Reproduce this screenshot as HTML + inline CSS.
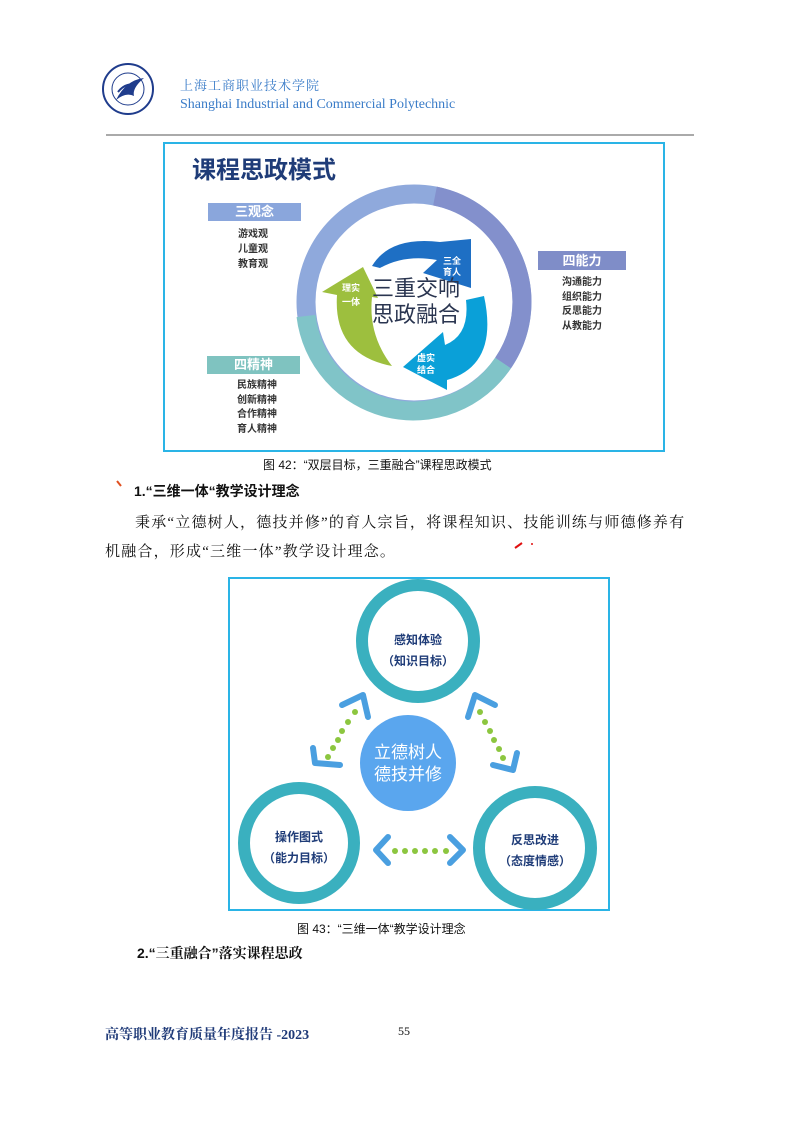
<!DOCTYPE html>
<html><head><meta charset="utf-8">
<style>
html,body{margin:0;padding:0;background:#fff;}
body{width:793px;height:1122px;position:relative;overflow:hidden;}
.a{position:absolute;white-space:nowrap;}
.s{font-family:"Liberation Sans","Noto Sans CJK SC",sans-serif;}
.r{font-family:"Liberation Serif","Noto Serif CJK SC",serif;}
</style></head><body>
<svg class="a" style="left:0;top:0" width="793" height="1122" viewBox="0 0 793 1122">
 <circle cx="128" cy="89" r="25" fill="#fff" stroke="#1f3c8c" stroke-width="2"/>
 <circle cx="128" cy="89" r="16" fill="none" stroke="#1f3c8c" stroke-width="1"/>
 <path d="M116,100 Q126,80 144,78 Q132,88 134,96 Q126,92 116,100Z" fill="#1f3c8c"/>
 <path d="M118,92 Q124,84 134,84" fill="none" stroke="#1f3c8c" stroke-width="2"/>
 <line x1="106" y1="135" x2="694" y2="135" stroke="#777" stroke-width="1.2"/>
 <rect x="164" y="143" width="500" height="308" fill="#fff" stroke="#2ab4e6" stroke-width="2"/>
 <circle cx="414" cy="302" r="108" fill="none" stroke="#8fa9dc" stroke-width="19"/>
 <path d="M435,196 A108,108 0 0 1 503,363" fill="none" stroke="#8390cc" stroke-width="19"/>
 <path d="M503,363 A108,108 0 0 1 306,316" fill="none" stroke="#80c4c8" stroke-width="19"/>
 <path d="M372,266 Q390,236 440,242 L471,239 L471,288 L423,273 L437,260 Q405,254 380,268 Z" fill="#1e6fc4"/>
 <path d="M403,367 L443,332 L445,345 Q470,335 466,300 L484,296 Q499,365 447,380 L447,390 Z" fill="#0aa0d8"/>
 <path d="M363,267 L322,292 L337,295 Q333,355 392,366 Q368,335 372,297 L378,298 Z" fill="#9dbf3e"/>
 <rect x="208" y="203" width="93" height="18" fill="#8aa6dc"/>
 <rect x="538" y="251" width="88" height="19" fill="#7f8dc8"/>
 <rect x="207" y="356" width="93" height="18" fill="#7fc3c0"/>
 <rect x="229" y="578" width="380" height="332" fill="#fff" stroke="#2ab4e6" stroke-width="2"/>
 <circle cx="418" cy="641" r="56" fill="#fff" stroke="#3ab0bf" stroke-width="12"/>
 <circle cx="299" cy="843" r="55" fill="#fff" stroke="#3ab0bf" stroke-width="12"/>
 <circle cx="535" cy="848" r="56" fill="#fff" stroke="#3ab0bf" stroke-width="12"/>
 <circle cx="408" cy="763" r="48" fill="#5aa6ee"/>
 <g fill="none" stroke="#4a9fe0" stroke-width="6" stroke-linecap="round" stroke-linejoin="round">
  <polyline points="342,705 363,695 368,717"/>
  <polyline points="313,748 315,763 340,765"/>
  <polyline points="495,705 475,695 468,717"/>
  <polyline points="493,765 513,770 517,753"/>
  <polyline points="388,837 376,850 388,863"/>
  <polyline points="450,837 463,850 450,863"/>
 </g>
 <g fill="#8cc63f">
  <circle cx="355" cy="712" r="3"/><circle cx="348" cy="722" r="3"/><circle cx="342" cy="731" r="3"/><circle cx="338" cy="740" r="3"/><circle cx="333" cy="748" r="3"/><circle cx="328" cy="757" r="3"/>
  <circle cx="480" cy="712" r="3"/><circle cx="485" cy="722" r="3"/><circle cx="490" cy="731" r="3"/><circle cx="494" cy="740" r="3"/><circle cx="499" cy="749" r="3"/><circle cx="503" cy="758" r="3"/>
  <circle cx="395" cy="851" r="3"/><circle cx="405" cy="851" r="3"/><circle cx="415" cy="851" r="3"/><circle cx="425" cy="851" r="3"/><circle cx="435" cy="851" r="3"/><circle cx="446" cy="851" r="3"/>
 </g>
 <path d="M117,481 L121,486" stroke="#e05020" stroke-width="2"/>
 <path d="M515,548 L522,543" stroke="#e01010" stroke-width="2"/>
 <circle cx="532" cy="544" r="1" fill="#e01010"/>
</svg>

<div class="a" style="left:180px;top:75px;font-size:13px;color:#3a7cc8;font-family:'Liberation Serif','Noto Serif CJK SC',serif;letter-spacing:1px">上海工商职业技术学院</div>
<div class="a r" style="left:180px;top:97px;font-size:14px;color:#3a7cc8">Shanghai Industrial and Commercial Polytechnic</div>

<div class="a s" style="left:192px;top:150px;font-size:24px;font-weight:bold;color:#1f3c78">课程思政模式</div>
<div class="a s" style="left:208px;top:203px;width:93px;text-align:center;font-size:13px;line-height:18px;font-weight:bold;color:#fff">三观念</div>
<div class="a s" style="left:223px;top:227px;width:60px;text-align:center;font-size:10px;line-height:15px;font-weight:bold;color:#333">游戏观<br>儿童观<br>教育观</div>
<div class="a s" style="left:538px;top:251px;width:88px;text-align:center;font-size:13px;line-height:19px;font-weight:bold;color:#fff">四能力</div>
<div class="a s" style="left:552px;top:276px;width:60px;text-align:center;font-size:10px;line-height:14.7px;font-weight:bold;color:#333">沟通能力<br>组织能力<br>反思能力<br>从教能力</div>
<div class="a s" style="left:207px;top:356px;width:93px;text-align:center;font-size:13px;line-height:18px;font-weight:bold;color:#fff">四精神</div>
<div class="a s" style="left:227px;top:379px;width:60px;text-align:center;font-size:10px;line-height:14.7px;font-weight:bold;color:#333">民族精神<br>创新精神<br>合作精神<br>育人精神</div>
<div class="a s" style="left:372px;top:276px;font-size:22px;line-height:26px;color:#2a3550">三重交响<br>思政融合</div>
<div class="a s" style="left:443px;top:256px;font-size:9px;line-height:11px;font-weight:bold;color:#fff">三全<br>育人</div>
<div class="a s" style="left:417px;top:352px;font-size:9px;line-height:12px;font-weight:bold;color:#fff">虚实<br>结合</div>
<div class="a s" style="left:342px;top:281px;font-size:9px;line-height:14px;font-weight:bold;color:#fff">理实<br>一体</div>

<div class="a s" style="left:263px;top:456px;font-size:12px;color:#111">图 42：“双层目标，三重融合”课程思政模式</div>
<div class="a s" style="left:134px;top:481px;font-size:14px;font-weight:bold;color:#111">1.“三维一体“教学设计理念</div>
<div class="a r" style="left:135px;top:511px;font-size:15px;letter-spacing:1.2px;color:#111">秉承“立德树人，德技并修”的育人宗旨，将课程知识、技能训练与师德修养有</div>
<div class="a r" style="left:105px;top:540px;font-size:15px;letter-spacing:1.2px;color:#111">机融合，形成“三维一体”教学设计理念。</div>

<div class="a s" style="left:368px;top:630px;width:100px;text-align:center;font-size:12px;line-height:21px;font-weight:bold;color:#1f3c78">感知体验<br>（知识目标）</div>
<div class="a s" style="left:249px;top:827px;width:100px;text-align:center;font-size:12px;line-height:21px;font-weight:bold;color:#1f3c78">操作图式<br>（能力目标）</div>
<div class="a s" style="left:485px;top:830px;width:100px;text-align:center;font-size:12px;line-height:21px;font-weight:bold;color:#1f3c78">反思改进<br>（态度情感）</div>
<div class="a s" style="left:358px;top:742px;width:100px;text-align:center;font-size:17px;line-height:22px;color:#fff">立德树人<br>德技并修</div>

<div class="a s" style="left:297px;top:920px;font-size:12px;color:#111">图 43：“三维一体“教学设计理念</div>
<div class="a" style="left:137px;top:943px;font-size:14px;font-weight:bold;color:#111;font-family:'Liberation Sans','Noto Serif CJK SC',serif">2.“三重融合”落实课程思政</div>
<div class="a r" style="left:105px;top:1024px;font-size:14px;font-weight:bold;color:#1f3a78">高等职业教育质量年度报告 -2023</div>
<div class="a r" style="left:398px;top:1024px;font-size:12px;color:#111">55</div>
</body></html>
